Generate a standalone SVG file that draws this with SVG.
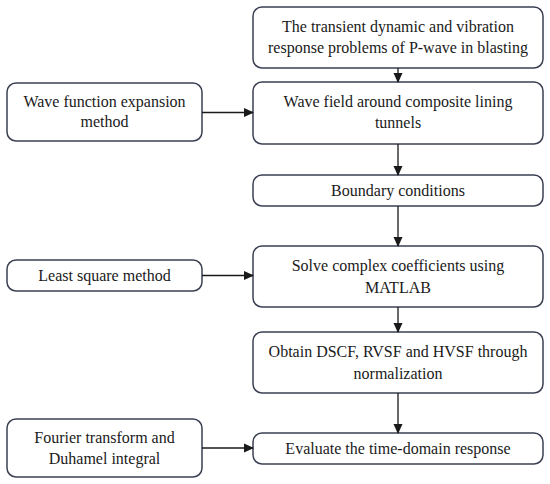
<svg xmlns="http://www.w3.org/2000/svg" width="550" height="484" viewBox="0 0 550 484">
<defs>
<marker id="ah" markerWidth="10" markerHeight="10" refX="9" refY="5" orient="auto" markerUnits="userSpaceOnUse">
<path d="M0,0.5 L10,5 L0,9.5 Z" fill="#1a1a1a"/>
</marker>
<style>
.box{fill:#ffffff;stroke:#3b3f52;stroke-width:1.5}
.t{font-family:"Liberation Serif","Times New Roman",serif;font-size:16px;fill:#1a1a1a;text-anchor:middle}
.c{stroke:#1a1a1a;stroke-width:1.3;fill:none;marker-end:url(#ah)}
</style>
</defs>
<rect width="550" height="484" fill="#ffffff"/>
<g id="n1"><rect class="box" x="253" y="7" width="290" height="61" rx="9"/>
<text class="t" x="398" y="32">The transient dynamic and vibration</text>
<text class="t" x="398" y="53">response problems of P-wave in blasting</text></g>
<g id="n2"><rect class="box" x="253" y="82" width="290" height="62" rx="9"/>
<text class="t" x="398" y="107">Wave field around composite lining</text>
<text class="t" x="398" y="128">tunnels</text></g>
<g id="n3"><rect class="box" x="253" y="175" width="290" height="31" rx="9"/>
<text class="t" x="398" y="196">Boundary conditions</text></g>
<g id="n4"><rect class="box" x="253" y="246" width="290" height="61" rx="9"/>
<text class="t" x="398" y="271">Solve complex coefficients using</text>
<text class="t" x="398" y="293">MATLAB</text></g>
<g id="n5"><rect class="box" x="253" y="332" width="290" height="61" rx="9"/>
<text class="t" x="398" y="357">Obtain DSCF, RVSF and HVSF through</text>
<text class="t" x="398" y="379">normalization</text></g>
<g id="n6"><rect class="box" x="253" y="433" width="290" height="31" rx="9"/>
<text class="t" x="398" y="454">Evaluate the time-domain response</text></g>
<g id="l1"><rect class="box" x="7" y="83" width="195" height="58" rx="9"/>
<text class="t" x="104.5" y="107">Wave function expansion</text>
<text class="t" x="104.5" y="127">method</text></g>
<g id="l2"><rect class="box" x="7" y="260" width="195" height="31" rx="9"/>
<text class="t" x="104.5" y="281">Least square method</text></g>
<g id="l3"><rect class="box" x="7" y="419" width="195" height="58" rx="9"/>
<text class="t" x="104.5" y="443">Fourier transform and</text>
<text class="t" x="104.5" y="464">Duhamel integral</text></g>
<g id="connectors">
<line class="c" x1="398" y1="68" x2="398" y2="82"/>
<line class="c" x1="398" y1="144" x2="398" y2="175"/>
<line class="c" x1="398" y1="206" x2="398" y2="246"/>
<line class="c" x1="398" y1="307" x2="398" y2="332"/>
<line class="c" x1="398" y1="393" x2="398" y2="433"/>
<line class="c" x1="202" y1="112.5" x2="253" y2="112.5"/>
<line class="c" x1="202" y1="275.5" x2="253" y2="275.5"/>
<line class="c" x1="202" y1="448" x2="253" y2="448"/>
</g>
</svg>
